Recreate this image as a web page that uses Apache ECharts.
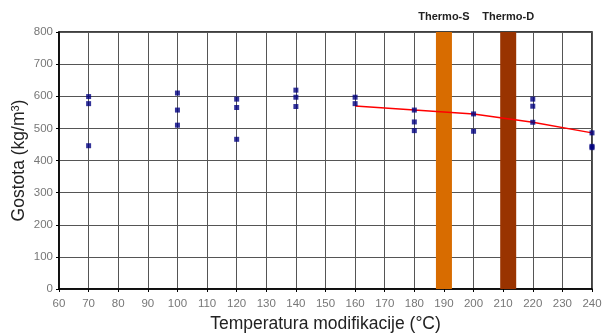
<!DOCTYPE html>
<html><head><meta charset="utf-8">
<script src="https://cdn.jsdelivr.net/npm/echarts@6/dist/echarts.min.js"></script>
<style>html,body{margin:0;padding:0;background:#fff}#c{width:603px;height:335px}</style>
</head><body><div id="c"></div>
<script>
var xTicks = [60,70,80,90,100,110,120,130,140,150,160,170,180,190,200,210,220,230,240];
var yTicks = [0,100,200,300,400,500,600,700,800];
var pointTemps = [70,70,70,100,100,100,120,120,120,140,140,140,160,160,180,180,180,200,200,220,220,220,240,240,240];
var pointDensity = [599,577,446,610,557,510,591,565,466,619,597,568,597,577,557,520,493,545,491,591,569,519,486,444,440];
var trendTemps = [160,180,200,220,240];
var trendDensity = [570,557,545,519,486];
var thermoNames = ['Thermo-S','Thermo-D'];
var thermoTemps = [190,211.7];
var thermoColors = ['#D86C00','#993300'];
var thermoTop = 800;

var chart = echarts.init(document.getElementById('c'));
var pts = pointTemps.map(function(t,i){return [t,pointDensity[i]];});
var trend = trendTemps.map(function(t,i){return [t,trendDensity[i]];});
var bars = thermoTemps.map(function(t,i){
  return {value:[t,thermoTop], name:thermoNames[i], itemStyle:{color:thermoColors[i]}};
});
chart.setOption({
  animation:false,
  grid:{left:59,right:11,top:32,bottom:46,outerBoundsMode:'none',containLabel:false,show:true,borderColor:'#000',borderWidth:1.5,backgroundColor:'transparent'},
  xAxis:{type:'value',min:60,max:240,interval:10,
    axisLine:{lineStyle:{color:'#000',width:1.5}},
    axisTick:{show:true,length:3,lineStyle:{color:'#000'}},
    axisLabel:{color:'#777',fontSize:11.5,fontFamily:'Arial',margin:9},
    splitLine:{show:true,lineStyle:{color:'#555',width:1}},
    name:'Temperatura modifikacije (°C)',nameLocation:'middle',nameGap:26,nameMoveOverlap:false,
    nameTextStyle:{color:'#222',fontSize:17.5,fontFamily:'Arial'}
  },
  yAxis:{type:'value',min:0,max:800,interval:100,
    axisLine:{show:true,lineStyle:{color:'#000',width:1.5}},
    axisTick:{show:true,length:3,lineStyle:{color:'#000'}},
    axisLabel:{color:'#777',fontSize:11.5,fontFamily:'Arial',margin:6},
    splitLine:{show:true,lineStyle:{color:'#555',width:1}},
    name:'Gostota (kg/m{sup|3})',nameLocation:'middle',nameGap:30,nameRotate:90,nameMoveOverlap:false,
    nameTextStyle:{color:'#222',fontSize:17.5,fontFamily:'Arial',padding:[0,0,0,0],
      rich:{sup:{fontSize:11,verticalAlign:'top',color:'#222',fontFamily:'Arial',padding:[0,0,8,0]}}}
  },
  series:[
    {type:'bar',data:bars,barWidth:16,barGap:'-100%',z:2,
      label:{show:true,position:'top',distance:10,formatter:'{b}',color:'#222',fontSize:11,fontWeight:'bold',fontFamily:'Arial'}},
    {type:'line',data:trend,symbol:'none',lineStyle:{color:'#FF0000',width:1.5},z:3},
    {type:'scatter',data:pts,symbol:'rect',symbolSize:5,itemStyle:{color:'#000080'},z:4}
  ]
});
</script></body></html>
